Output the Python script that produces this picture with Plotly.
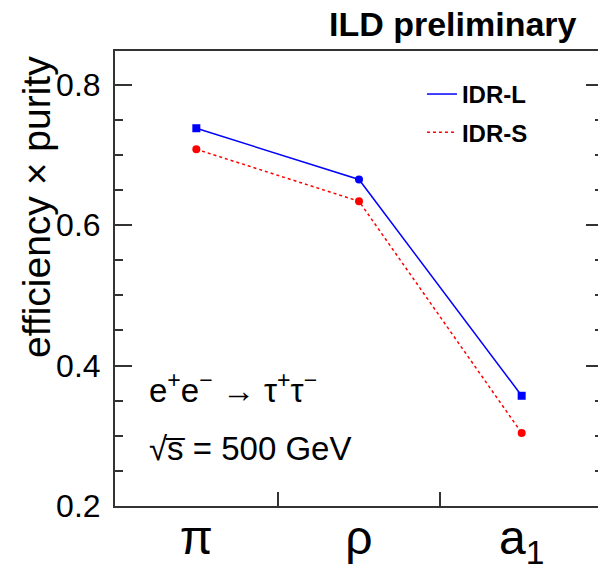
import plotly.graph_objects as go

categories = ["π", "ρ", "a<sub>1</sub>"]
cat_pos = [0.5, 1.5, 2.5]
idr_l = [0.738, 0.665, 0.357]
idr_s = [0.708, 0.634, 0.304]
idr_l_symbols = ["square", "circle", "square"]
y_ticks = [0.2, 0.4, 0.6, 0.8]

FONT = "Liberation Sans, Arial, Helvetica, sans-serif"
# page body has an 8px default margin, so the figure is 8px smaller
W, H = 598, 565
ML, MT, MR, MB = 107, 43, 3, 67
PW = W - ML - MR
PH = H - MT - MB

fig = go.Figure()
fig.add_trace(go.Scatter(x=cat_pos, y=idr_l, mode="lines+markers", showlegend=False,
                         line=dict(color="#0000ff", width=1.5),
                         marker=dict(color="#0000ff", size=8, symbol=idr_l_symbols)))
fig.add_trace(go.Scatter(x=cat_pos, y=idr_s, mode="lines+markers", showlegend=False,
                         line=dict(color="#ff0000", width=1.5, dash="dot"),
                         marker=dict(color="#ff0000", size=8, symbol="circle")))
fig.add_trace(go.Scatter(x=[None], y=[None], mode="lines", name="<b>IDR-L</b>", legendgroup="a",
                         line=dict(color="#0000ff", width=1.5)))
fig.add_trace(go.Scatter(x=[None], y=[None], mode="lines", name="<b>IDR-S</b>", legendgroup="b",
                         line=dict(color="#ff0000", width=1.5, dash="dot")))

fig.update_layout(
    width=W, height=H,
    margin=dict(l=ML, r=MR, t=MT, b=MB),
    paper_bgcolor="white", plot_bgcolor="white",
    font=dict(family=FONT, color="black"),
    legend=dict(x=0.629, y=0.954, xanchor="left", yanchor="top",
                bgcolor="rgba(0,0,0,0)", font=dict(size=24, family=FONT),
                itemwidth=30, tracegroupgap=4),
    xaxis=dict(range=[0, 3], tickvals=cat_pos, ticktext=categories, ticks="",
               tickfont=dict(size=48), showgrid=False, zeroline=False, automargin=False,
               ticklabelstandoff=-12,
               showline=True, linecolor="#333", linewidth=2, mirror=True,
               minor=dict(tickvals=[1, 2], ticks="inside", ticklen=14, tickcolor="#333", tickwidth=1.5)),
    yaxis=dict(range=[0.2, 0.848], tickvals=y_ticks, ticks="inside", ticklen=17,
               tickcolor="#333", tickwidth=1.5, tickformat=".1f", automargin=False,
               tickfont=dict(size=32), showgrid=False, zeroline=False, ticklabelstandoff=6,
               showline=True, linecolor="#333", linewidth=2, mirror="allticks",
               minor=dict(dtick=0.05, tick0=0.2, ticks="inside", ticklen=8, tickcolor="#333", tickwidth=1.5)),
)

# y-axis title, top-aligned like the reference
fig.add_annotation(x=(28 - ML) / PW, y=(H - MB - 199) / PH, xref="paper", yref="paper",
                   xanchor="center", yanchor="middle", textangle=-90,
                   text="efficiency × purity", showarrow=False, font=dict(size=39, family=FONT))
fig.add_annotation(x=(570 - ML) / PW, y=1.0, xref="paper", yref="paper", xanchor="right", yanchor="bottom",
                   yshift=7, borderpad=0, text="<b>ILD preliminary</b>", showarrow=False,
                   font=dict(size=34, family=FONT))
fig.add_annotation(x=0.065, y=0.26, xref="paper", yref="paper", xanchor="left", yanchor="middle",
                   text="e<sup>+</sup>e<sup>−</sup> → τ<sup>+</sup>τ<sup>−</sup>", showarrow=False,
                   font=dict(size=33, family=FONT))
fig.add_annotation(x=0.065, y=0.127, xref="paper", yref="paper", xanchor="left", yanchor="middle",
                   text="√s\u0305 = 500 GeV", showarrow=False, font=dict(size=33, family=FONT))

fig.write_html("out.html")
